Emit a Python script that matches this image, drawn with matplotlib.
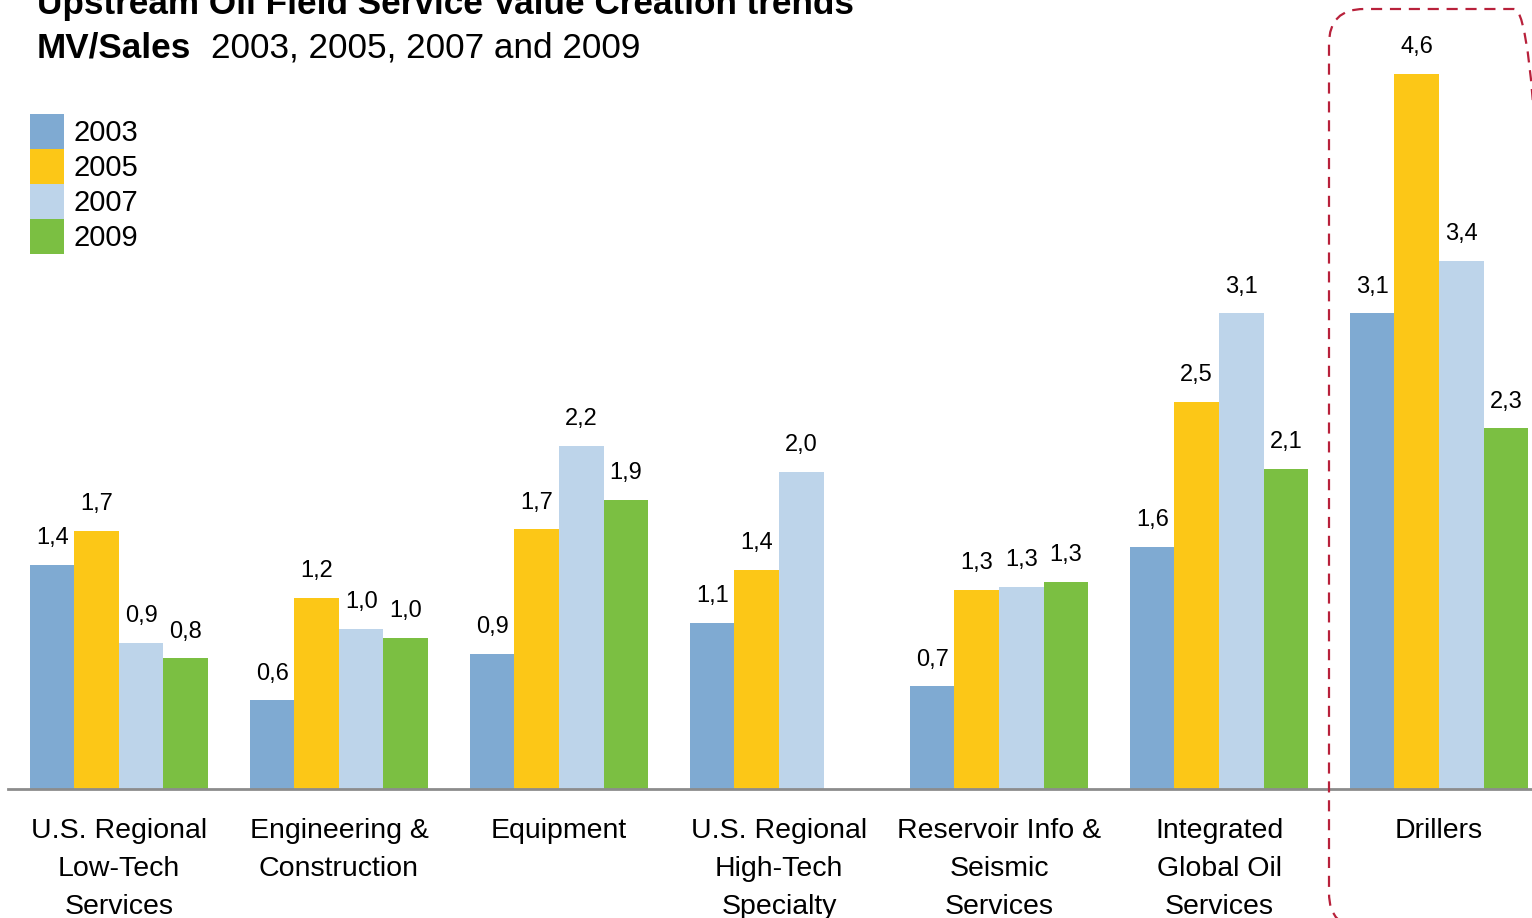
import numpy as np
import matplotlib
matplotlib.use('Agg')
import matplotlib.pyplot as plt
from matplotlib.patches import FancyBboxPatch
from matplotlib.transforms import IdentityTransform

plt.rcParams['font.family'] = ['Liberation Sans', 'DejaVu Sans']

# Datos
categorias = ['U.S. Regional\nLow-Tech\nServices', 'Engineering &\nConstruction', 'Equipment',
              'U.S. Regional\nHigh-Tech\nSpecialty', 'Reservoir Info &\nSeismic\nServices',
              'Integrated\nGlobal Oil\nServices', 'Drillers']
anios = ['2003', '2005', '2007', '2009']
v2003 = [1.44, 0.57, 0.87, 1.07, 0.66, 1.56, 3.06]
v2005 = [1.66, 1.23, 1.67, 1.41, 1.28, 2.49, 4.60]
v2007 = [0.94, 1.03, 2.21, 2.04, 1.30, 3.06, 3.40]
v2009 = [0.84, 0.97, 1.86, np.nan, 1.33, 2.06, 2.32]
colores = ['#7FAAD2', '#FCC717', '#BDD4EA', '#7BBF42']

W, H = 1532, 918
fig = plt.figure(figsize=(W / 100, H / 100), dpi=100)
ax = fig.add_axes([8 / W, (H - 789) / H, 1 - 8 / W, 789 / H])

x = np.arange(len(categorias))
ancho = 0.2023
series = [v2003, v2005, v2007, v2009]
barras = []
for i, (vals, col, an) in enumerate(zip(series, colores, anios)):
    pos = x + (i - 1.5) * ancho
    b = ax.bar(pos, vals, width=ancho, color=col, linewidth=0, label=an)
    barras.append(b)
    for xp, v in zip(pos, vals):
        if np.isnan(v):
            continue
        ax.annotate(f'{v:.1f}'.replace('.', ','), (xp, v), xytext=(0, 15),
                    textcoords='offset points', ha='center', va='baseline', fontsize=17)

ax.set_xlim(-0.5045, 6.4227)
ax.set_ylim(0, 789 / 155.4)
ax.set_yticks([])
for s in ['top', 'right', 'left']:
    ax.spines[s].set_visible(False)
ax.spines['bottom'].set_color('#8C8C8C')
ax.spines['bottom'].set_linewidth(2)
ax.set_xticks(x)
ax.set_xticklabels(categorias, fontsize=20.5, linespacing=1.6)
ax.tick_params(axis='x', length=0, pad=21)
ax.patch.set_visible(False)

ax.legend(handles=barras, loc='upper left', bbox_to_anchor=(30 / W, 1 - 114 / H),
          bbox_transform=fig.transFigure, frameon=False, fontsize=21,
          handlelength=1.16, handleheight=1.47, handletextpad=0.33,
          labelspacing=0, borderpad=0, borderaxespad=0)

# Titulo
fig.text(37 / W, 1 - 14 / H, 'Upstream Oil Field Service Value Creation trends',
         fontsize=25.3, fontweight='bold', va='baseline')
fig.text(37 / W, 1 - 58 / H, 'MV/Sales', fontsize=25.3, fontweight='bold', va='baseline')
fig.text(211 / W, 1 - 58 / H, '2003, 2005, 2007 and 2009', fontsize=25.3, va='baseline')

# Recuadro punteado Drillers
caja = FancyBboxPatch((1329, -10), 220, H - 9 + 10, boxstyle='round,pad=0,rounding_size=35',
                      transform=IdentityTransform(), fill=False, edgecolor='#B8213B',
                      linewidth=1.6, linestyle=(0, (5, 3.5)), clip_on=False)
fig.add_artist(caja)

fig.savefig('out.png', dpi=100)
